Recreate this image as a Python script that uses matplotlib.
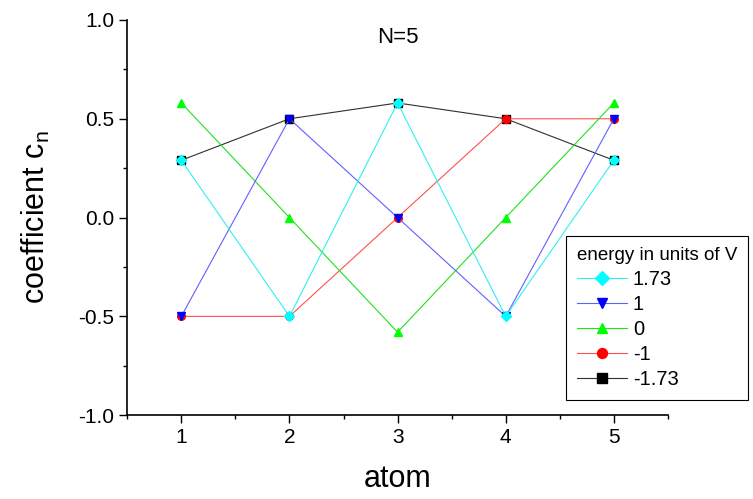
import matplotlib.pyplot as plt
from matplotlib.ticker import MultipleLocator

plt.rcParams['font.family'] = ['Liberation Sans', 'DejaVu Sans']

atoms = [1, 2, 3, 4, 5]
energies = ['1.73', '1', '0', '-1', '-1.73']
c_173 = [0.29, -0.5, 0.58, -0.5, 0.29]
c_1 = [-0.5, 0.5, 0.0, -0.5, 0.5]
c_0 = [0.58, 0.0, -0.58, 0.0, 0.58]
c_m1 = [-0.5, -0.5, 0.0, 0.5, 0.5]
c_m173 = [0.29, 0.5, 0.58, 0.5, 0.29]

series = [c_173, c_1, c_0, c_m1, c_m173]
line_colors = ['#30f0f0', '#6060ff', '#20e020', '#ff5050', '#303030']
marker_colors = ['#00ffff', '#0000ff', '#00ff00', '#ff0000', '#000000']
markers = ['D', 'v', '^', 'o', 's']

fig = plt.figure(figsize=(7.53, 4.99), dpi=100)
ax = fig.add_axes([0.169, 0.168, 0.718, 0.792])

for i, (vals, lab) in enumerate(zip(series, energies)):
    ax.plot(atoms, vals, color=line_colors[i], lw=0.8, marker=markers[i],
            markersize=5.5, markerfacecolor=marker_colors[i],
            markeredgecolor=marker_colors[i], label=lab, zorder=10 - i)

ax.set_xlim(0.5, 5.5)
ax.set_ylim(-1.0, 1.0)
ax.xaxis.set_major_locator(MultipleLocator(1))
ax.xaxis.set_minor_locator(MultipleLocator(0.5))
ax.yaxis.set_major_locator(MultipleLocator(0.5))
ax.yaxis.set_minor_locator(MultipleLocator(0.25))
ax.yaxis.set_major_formatter(plt.FormatStrFormatter('%.1f'))
ax.tick_params(which='major', direction='out', length=6, width=1, labelsize=15)
ax.tick_params(which='minor', direction='out', length=3, width=1)
for s in ['top', 'right']:
    ax.spines[s].set_visible(False)
for s in ['left', 'bottom']:
    ax.spines[s].set_linewidth(1.2)

ax.set_xlabel('atom', fontsize=22, labelpad=12)
ax.set_ylabel('coefficient c$_\\mathregular{n}$', fontsize=22, labelpad=19)
ax.text(3, 0.91, 'N=5', fontsize=16, ha='center', va='center')

leg = fig.legend(title='energy in units of V', loc='lower left',
                 bbox_to_anchor=(0.751, 0.198), bbox_transform=fig.transFigure,
                 borderaxespad=0, fontsize=14.5, title_fontsize=13.5,
                 handlelength=2.5, markerscale=1.3, fancybox=False,
                 edgecolor='black', framealpha=1, borderpad=0.55,
                 labelspacing=0.3, handletextpad=0.3, alignment='left')
leg.get_frame().set_linewidth(0.8)

fig.savefig('out.png', dpi=100)
